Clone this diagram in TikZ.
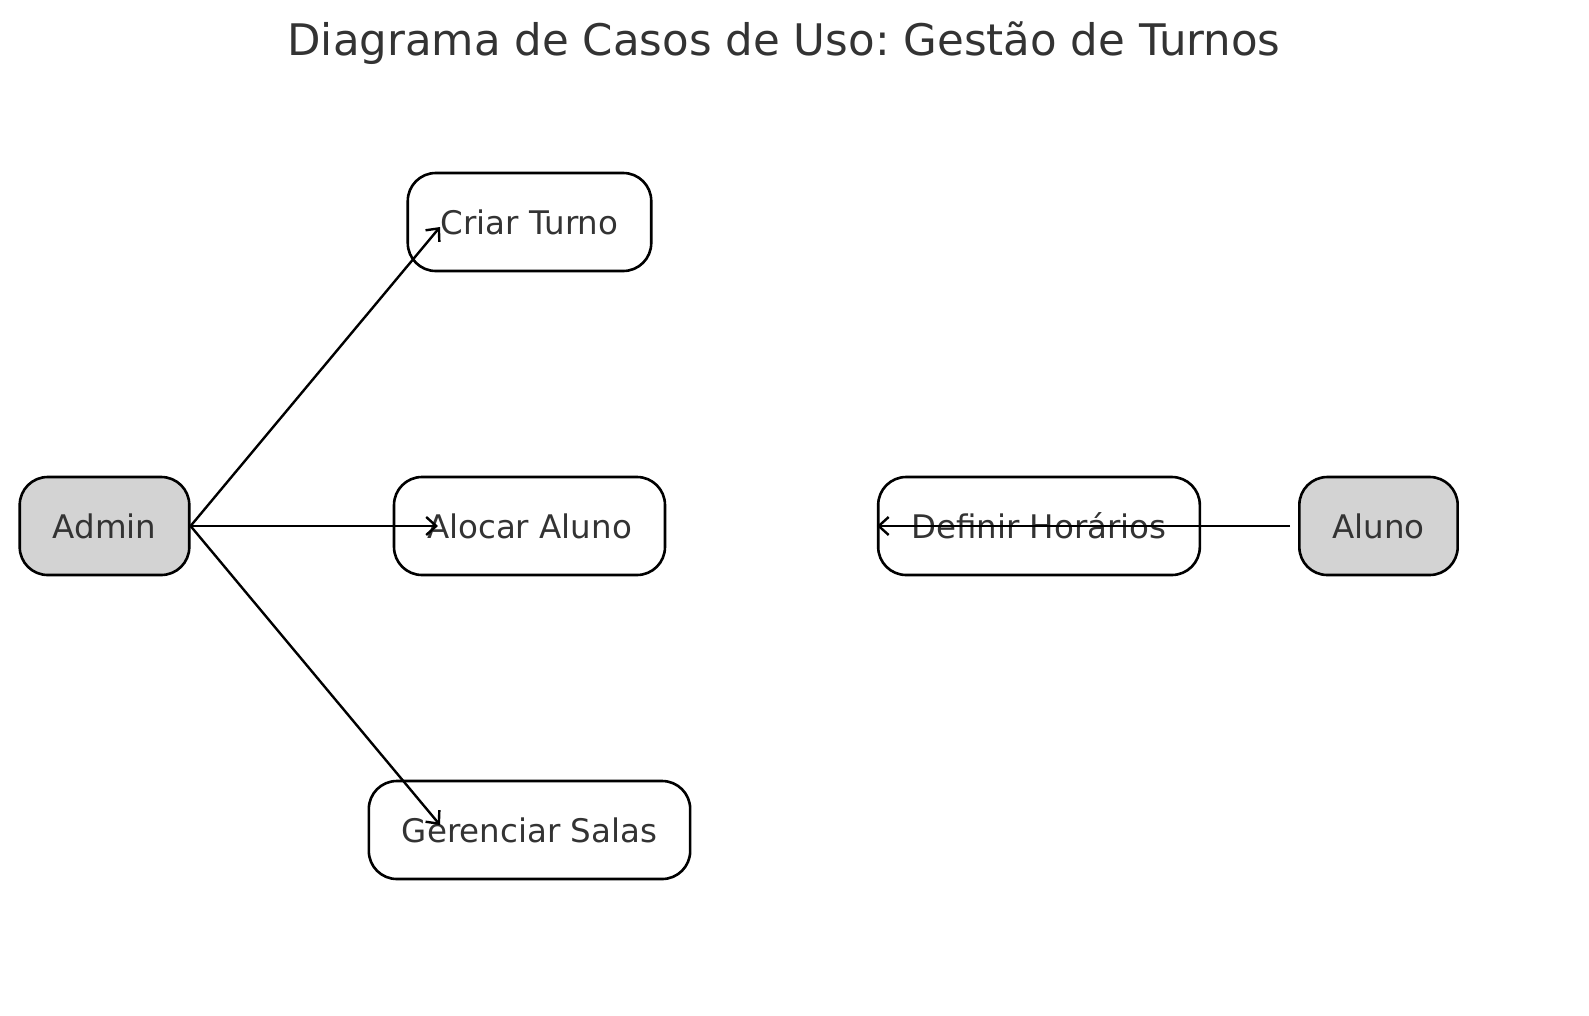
\documentclass[tikz,border=0pt]{standalone}
\usepackage{fontspec}
\setmainfont{DejaVu Sans}
\usetikzlibrary{arrows.meta}
\frenchspacing
\definecolor{txtgray}{HTML}{333333}
\definecolor{actorfill}{HTML}{D3D3D3}
\tikzset{
  usecase/.style={draw=black, line width=2.6pt, rounded corners=28pt,
    minimum height=98pt, inner xsep=33pt, text=txtgray,
    font=\fontsize{32.5}{39}\selectfont},
  actor/.style={usecase, fill=actorfill},
  assoc/.style={line width=2.4pt, -{Straight Barb[length=10pt,width=18pt]}}
}
\begin{document}
\begin{tikzpicture}[x=1pt,y=-1pt]
  \useasboundingbox (0,0) rectangle (1589,1015);
  \def\y{304}
  \node [anchor=base, text=txtgray, font=\fontsize{43.5}{52}\selectfont]
    (title) at (784, 55) {Diagrama de Casos de Uso: Gestão de Turnos};
  \node [actor] (A1_0) at (104.5, 222+1*\y) {Admin};
  \node [usecase] (A0_1) at (529.5, 222+0*\y) {Criar Turno};
  \node [usecase] (A1_1) at (529.5, 222+1*\y) {Alocar Aluno};
  \node [usecase] (A2_1) at (529.5, 222+2*\y) {Gerenciar Salas};
  \node [usecase] (A1_2) at (1039, 222+1*\y) {Definir Horários};
  \node [actor] (A1_3) at (1378.5, 222+1*\y) {Aluno};
  \coordinate (E0_1) at (440, 227);
  \coordinate (E1_1) at (438, 526);
  \coordinate (E2_1) at (440, 825);
  \coordinate (S1_3) at (1290, 526);
  \draw [assoc] (A1_0.east) -- (E0_1);
  \draw [assoc] (A1_0.east) -- (E1_1);
  \draw [assoc] (A1_0.east) -- (E2_1);
  \draw [assoc] (S1_3) -- (A1_2.west);
\end{tikzpicture}
\end{document}
